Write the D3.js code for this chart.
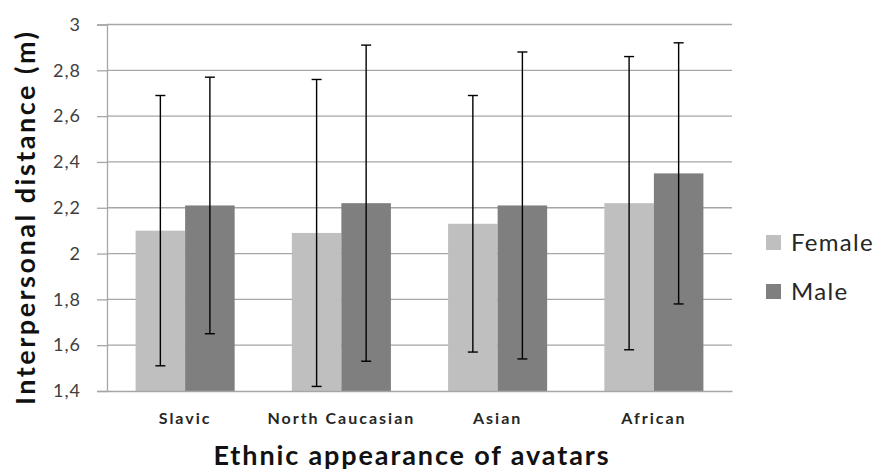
<!DOCTYPE html>
<html>
<head>
<meta charset="utf-8">
<script src="https://cdn.jsdelivr.net/npm/d3@7"></script>
<style>
  body { margin: 0; background: #fff; }
  svg { display: block; font-family: Lato, "Open Sans", sans-serif; }
</style>
</head>
<body>
<div id="chart"></div>
<script>
// Data
const categories = ["Slavic", "North Caucasian", "Asian", "African"];
const series = ["Female", "Male"];
const femaleMean = [2.10, 2.09, 2.13, 2.22];
const maleMean = [2.21, 2.22, 2.21, 2.35];
const femaleSd = [0.59, 0.67, 0.56, 0.64];
const maleSd = [0.56, 0.69, 0.67, 0.57];
const yTicks = [1.4, 1.6, 1.8, 2, 2.2, 2.4, 2.6, 2.8, 3];

const width = 879, height = 472;
const margin = { top: 24.5, right: 147, bottom: 81, left: 107 };
const colors = { Female: "#bfbfbf", Male: "#7f7f7f" };

const rows = categories.map((c, i) => ({
    cat: c,
    values: [
        { key: "Female", mean: femaleMean[i], sd: femaleSd[i] },
        { key: "Male", mean: maleMean[i], sd: maleSd[i] }
    ]
}));

const svg = d3.select("#chart").append("svg")
    .attr("width", width)
    .attr("height", height);

const x0 = d3.scaleBand()
    .domain(categories)
    .range([margin.left, width - margin.right])
    .paddingInner(0.366)
    .paddingOuter(0.183);

const x1 = d3.scaleBand()
    .domain(series)
    .range([0, x0.bandwidth()]);

const y = d3.scaleLinear()
    .domain([1.4, 3])
    .range([height - margin.bottom, margin.top]);

// Gridlines
svg.append("g")
    .selectAll("line")
    .data(yTicks.slice(1))
    .enter().append("line")
    .attr("x1", margin.left)
    .attr("x2", width - margin.right)
    .attr("y1", d => y(d))
    .attr("y2", d => y(d))
    .attr("stroke", "#a6a6a6")
    .attr("stroke-width", 1.3);

// Y axis
const yAxis = svg.append("g")
    .attr("transform", `translate(${margin.left},0)`)
    .call(d3.axisLeft(y).tickValues(yTicks).tickSize(10).tickPadding(16)
        .tickFormat(d => String(d).replace(".", ",")));
yAxis.select(".domain").attr("stroke", "#a6a6a6").attr("stroke-width", 1.3);
yAxis.selectAll(".tick line").attr("stroke", "#a6a6a6").attr("stroke-width", 1.3);
yAxis.selectAll(".tick text")
    .attr("font-size", 18)
    .attr("letter-spacing", 1)
    .attr("fill", "#404040")
    .attr("font-family", "Lato, sans-serif");

// Bars
const group = svg.append("g")
    .selectAll("g")
    .data(rows)
    .enter().append("g")
    .attr("transform", d => `translate(${x0(d.cat)},0)`);

group.selectAll("rect")
    .data(d => d.values)
    .enter().append("rect")
    .attr("x", d => x1(d.key))
    .attr("width", x1.bandwidth())
    .attr("y", d => y(d.mean))
    .attr("height", d => y(1.4) - y(d.mean))
    .attr("fill", d => colors[d.key]);

// Error bars
const err = group.selectAll("g.err")
    .data(d => d.values)
    .enter().append("g")
    .attr("class", "err")
    .attr("stroke", "#000")
    .attr("stroke-width", 1.4);

const cx = d => x1(d.key) + x1.bandwidth() / 2;
err.append("line")
    .attr("x1", cx).attr("x2", cx)
    .attr("y1", d => y(d.mean + d.sd))
    .attr("y2", d => y(d.mean - d.sd));
err.append("line")
    .attr("x1", d => cx(d) - 5).attr("x2", d => cx(d) + 5)
    .attr("y1", d => y(d.mean + d.sd))
    .attr("y2", d => y(d.mean + d.sd));
err.append("line")
    .attr("x1", d => cx(d) - 5).attr("x2", d => cx(d) + 5)
    .attr("y1", d => y(d.mean - d.sd))
    .attr("y2", d => y(d.mean - d.sd));

// X axis
const xAxis = svg.append("g")
    .attr("transform", `translate(0,${y(1.4)})`)
    .call(d3.axisBottom(x0).tickSize(0).tickPadding(22));
xAxis.select(".domain").attr("stroke", "#a6a6a6").attr("stroke-width", 1.3);
xAxis.selectAll(".tick text")
    .attr("font-size", 16)
    .attr("font-weight", "bold")
    .attr("letter-spacing", 2)
    .attr("fill", "#262626")
    .attr("font-family", "Lato, sans-serif");

// Axis titles
svg.append("text")
    .attr("x", 411)
    .attr("y", 465)
    .attr("text-anchor", "middle")
    .attr("font-size", 27)
    .attr("font-weight", "bold")
    .attr("textLength", 395)
    .attr("lengthAdjust", "spacing")
    .attr("fill", "#111")
    .text("Ethnic appearance of avatars");

svg.append("text")
    .attr("transform", `translate(35,${(32 + 405) / 2}) rotate(-90)`)
    .attr("text-anchor", "middle")
    .attr("font-size", 27)
    .attr("font-weight", "bold")
    .attr("textLength", 373)
    .attr("lengthAdjust", "spacing")
    .attr("fill", "#111")
    .text("Interpersonal distance (m)");

// Legend
const legend = svg.append("g")
    .attr("transform", "translate(766,235)");

series.forEach((s, i) => {
    legend.append("rect")
        .attr("x", 0)
        .attr("y", i * 49)
        .attr("width", 15)
        .attr("height", 15)
        .attr("fill", colors[s]);
    legend.append("text")
        .attr("x", 25)
        .attr("y", i * 49 + 15.5)
        .attr("font-size", 24)
        .attr("letter-spacing", 1.3)
        .attr("fill", "#262626")
        .text(s);
});
</script>
</body>
</html>
